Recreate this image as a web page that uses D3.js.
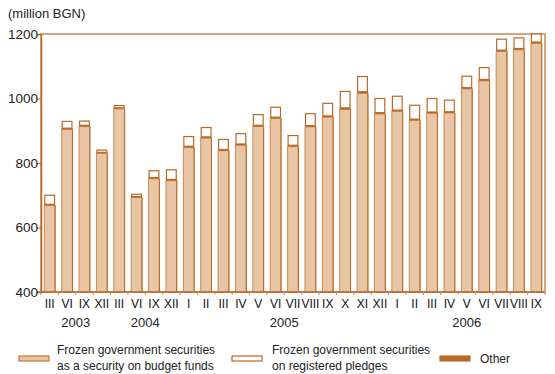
<!DOCTYPE html>
<html><head><meta charset="utf-8">
<script src="https://cdn.jsdelivr.net/npm/d3@7"></script>
<style>body{margin:0;background:#fff}svg{display:block;font-family:"Liberation Sans",Arial,sans-serif}</style>
</head><body><svg id="c" width="555" height="374"></svg>
<script>
const months = ["III","VI","IX","XII","III","VI","IX","XII","I","II","III","IV","V","VI","VII","VIII","IX","X","XI","XII","I","II","III","IV","V","VI","VII","VIII","IX"];
const years = [{label:"2003",from:0,to:3},{label:"2004",from:4,to:7},{label:"2005",from:8,to:19},{label:"2006",from:20,to:28}];
const budget = [668,904,913,830,968,693,751,745,848,877,838,855,913,938,851,912,942,966,1016,952,960,932,954,955,1030,1055,1146,1151,1171];
const other = [4,4,4,3,3,3,4,4,4,4,4,4,4,4,4,4,4,5,5,4,4,4,4,4,4,4,4,4,4];
const pledges = [28,21,13,7,7,7,21,30,30,29,31,32,33,31,30,37,39,51,47,44,43,43,42,36,35,37,34,33,25];
const yTicks = [400,600,800,1000,1200];
const seriesNames = ["Frozen government securities|as a security on budget funds","Frozen government securities|on registered pledges","Other"];

const svg = d3.select("#c");
const L=41,R=545,T=34,B=292;
const x = d3.scaleBand().domain(d3.range(months.length)).range([L,R]).paddingInner(0.38).paddingOuter(0.19);
const y = d3.scaleLinear().domain([400,1200]).range([B,T]);
const brown="#b86a26", frame="#c8895a";

svg.append("text").attr("x",8).attr("y",18).attr("font-size",13).attr("fill","#222").text("(million BGN)");

svg.append("rect").attr("x",L).attr("y",T).attr("width",R-L).attr("height",B-T).attr("fill","none").attr("stroke",frame).attr("stroke-width",1.5);

const g = svg.append("g");
months.forEach((m,i)=>{
  const bx=x(i), bw=x.bandwidth();
  const b0=400, b1=budget[i], o1=b1+other[i], p1=o1+pledges[i];
  g.append("rect").attr("x",bx).attr("y",y(b1)).attr("width",bw).attr("height",y(b0)-y(b1))
    .attr("fill","#e8c5a5").attr("stroke","#c98b55").attr("stroke-width",1);
  g.append("rect").attr("x",bx+0.5).attr("y",y(p1)).attr("width",bw-1).attr("height",Math.max(0,y(o1)-y(p1)))
    .attr("fill","#fff").attr("stroke",brown).attr("stroke-width",1.2);
  g.append("rect").attr("x",bx).attr("y",y(o1)).attr("width",bw).attr("height",y(b1)-y(o1))
    .attr("fill",brown);
  g.append("line").attr("x1",bx+bw).attr("x2",bx+bw).attr("y1",y(b1)).attr("y2",B).attr("stroke","#b86a26").attr("stroke-width",1);
});

const xa = d3.axisBottom(x).tickSize(0).tickFormat(i=>months[i]);
const gx = svg.append("g").attr("transform",`translate(0,${B})`).call(xa);
gx.select(".domain").remove();
gx.selectAll("text").attr("font-size",12).attr("fill","#111").attr("dy","1.1em");
svg.append("line").attr("x1",L-4).attr("x2",R).attr("y1",B).attr("y2",B).attr("stroke",brown).attr("stroke-width",1.5);
d3.range(months.length+1).forEach(k=>{
  const tx = L + k*(R-L)/months.length;
  svg.append("line").attr("x1",tx).attr("x2",tx).attr("y1",B).attr("y2",B+3).attr("stroke",frame).attr("stroke-width",1);
});
const ya = d3.axisLeft(y).tickValues(yTicks).tickSize(4).tickFormat(d3.format("d"));
const gy = svg.append("g").attr("transform",`translate(${L},0)`).call(ya);
gy.select(".domain").attr("stroke",brown).attr("stroke-width",1.5);
gy.selectAll("line").attr("stroke",brown);
gy.selectAll("text").attr("font-size",13.5).attr("fill","#222").attr("x",-3);

years.forEach(yr=>{
  const cx = (x(yr.from) + x(yr.to)+x.bandwidth())/2;
  svg.append("text").attr("x",cx).attr("y",327).attr("text-anchor","middle").attr("font-size",13).attr("fill","#222").text(yr.label);
});

const lg = svg.append("g");
const sw = [{x:19,fill:"#e8c5a5",stroke:"#c0783a",tx:57},{x:232,fill:"#fff",stroke:brown,tx:272},{x:440,fill:brown,stroke:brown,tx:480}];
seriesNames.forEach((n,i)=>{
  lg.append("rect").attr("x",sw[i].x).attr("y",356).attr("width",30).attr("height",5).attr("fill",sw[i].fill).attr("stroke",sw[i].stroke).attr("stroke-width",1.2);
  const lines=n.split("|");
  const t=lg.append("text").attr("x",sw[i].tx).attr("font-size",12).attr("fill","#222");
  if(lines.length===1){t.attr("y",363).text(lines[0]);}
  else lines.forEach((s,j)=>t.append("tspan").attr("x",sw[i].tx).attr("y",354+j*16).text(s));
});
</script></body></html>
